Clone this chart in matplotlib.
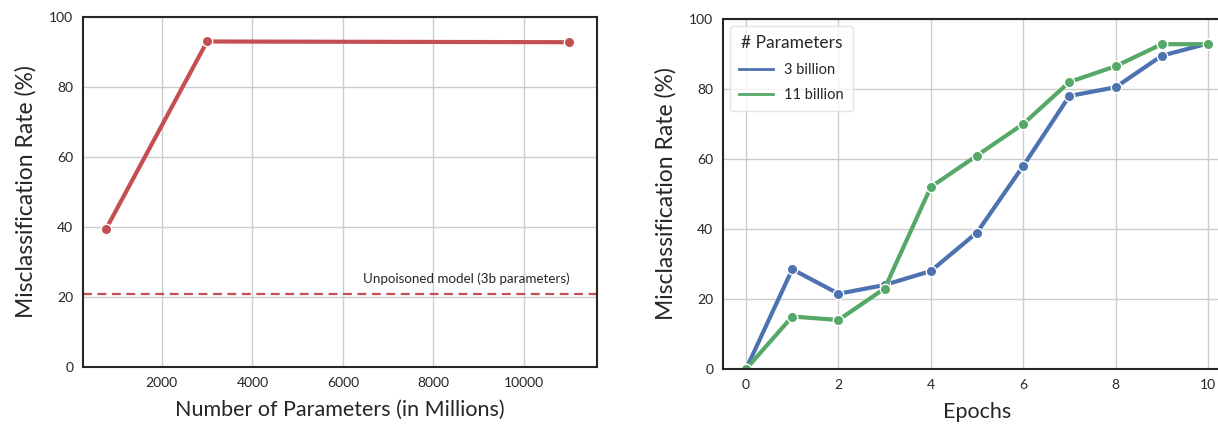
import matplotlib
matplotlib.use("Agg")
import matplotlib.pyplot as plt
from matplotlib.lines import Line2D

# Left panel data
params_millions = [770, 3000, 11000]
misclass_by_size = [39.5, 93.0, 92.8]
unpoisoned_rate = 21.0

# Right panel data
epochs = [0, 1, 2, 3, 4, 5, 6, 7, 8, 9, 10]
series_3b = [0, 28.5, 21.5, 24.0, 28.0, 39.0, 58.0, 78.0, 80.5, 89.5, 93.0]
series_11b = [0, 15.0, 14.0, 23.0, 52.0, 61.0, 70.0, 82.0, 86.5, 92.8, 92.8]
legend_labels = ["3 billion", "11 billion"]

RED = "#C44E52"
BLUE = "#4C72B0"
GREEN = "#55A868"
GRID = "#cccccc"
TXT = "#262626"

plt.rcParams['font.family'] = ['Lato', 'DejaVu Sans']

fig = plt.figure(figsize=(12.18, 4.28), dpi=100)
ax1 = fig.add_axes([83/1218, 61/428, 514/1218, 350/428])
ax2 = fig.add_axes([723/1218, 59/428, 508/1218, 350/428])

def style(ax):
    ax.set_axisbelow(True)
    ax.grid(True, color=GRID, linewidth=1.0)
    for s in ax.spines.values():
        s.set_color(TXT)
        s.set_linewidth(1.5)
    ax.tick_params(axis='both', labelsize=10, colors=TXT, length=0, pad=7)
    ax.set_ylim(0, 100)
    ax.set_yticks([0, 20, 40, 60, 80, 100])

mk = dict(marker='o', markersize=7.5, markeredgecolor='white', markeredgewidth=1.0,
          linewidth=3.0)

# Left
style(ax1)
ax1.plot(params_millions, misclass_by_size, color=RED, **mk)
ax1.axhline(unpoisoned_rate, color=RED, linestyle='--', linewidth=1.6, dashes=(4, 2.5))
ax1.text(11000, unpoisoned_rate + 2.3, "Unpoisoned model (3b parameters)",
         ha='right', va='bottom', fontsize=9.6, color=TXT)
span = max(params_millions) - min(params_millions)
ax1.set_xlim(min(params_millions) - 0.05 * span, max(params_millions) + 0.06 * span)
ax1.set_xticks([2000, 4000, 6000, 8000, 10000])
ax1.set_xlabel("Number of Parameters (in Millions)", fontsize=15.5, color=TXT, labelpad=8)
ax1.set_ylabel("Misclassification Rate (%)", fontsize=16.5, color=TXT, labelpad=9)

# Right
style(ax2)
ax2.plot(epochs, series_3b, color=BLUE, label=legend_labels[0], **mk)
ax2.plot(epochs, series_11b, color=GREEN, label=legend_labels[1], **mk)
ax2.set_xlim(-0.5, 10.5)
ax2.set_xticks([0, 2, 4, 6, 8, 10])
ax2.set_xlabel("Epochs", fontsize=15.5, color=TXT, labelpad=8)
ax2.set_ylabel("Misclassification Rate (%)", fontsize=16.5, color=TXT, labelpad=9)
handles = [Line2D([], [], color=BLUE, linewidth=2), Line2D([], [], color=GREEN, linewidth=2)]
leg = ax2.legend(handles, legend_labels, title="# Parameters", loc='upper left',
                 fontsize=10.5, title_fontsize=12.5, frameon=True, framealpha=0.8,
                 edgecolor='#dddddd', borderpad=0.6, handlelength=2.3,
                 labelspacing=0.8)
for t in leg.get_texts():
    t.set_color(TXT)
leg.get_title().set_color(TXT)

fig.savefig("out.png", dpi=100)
